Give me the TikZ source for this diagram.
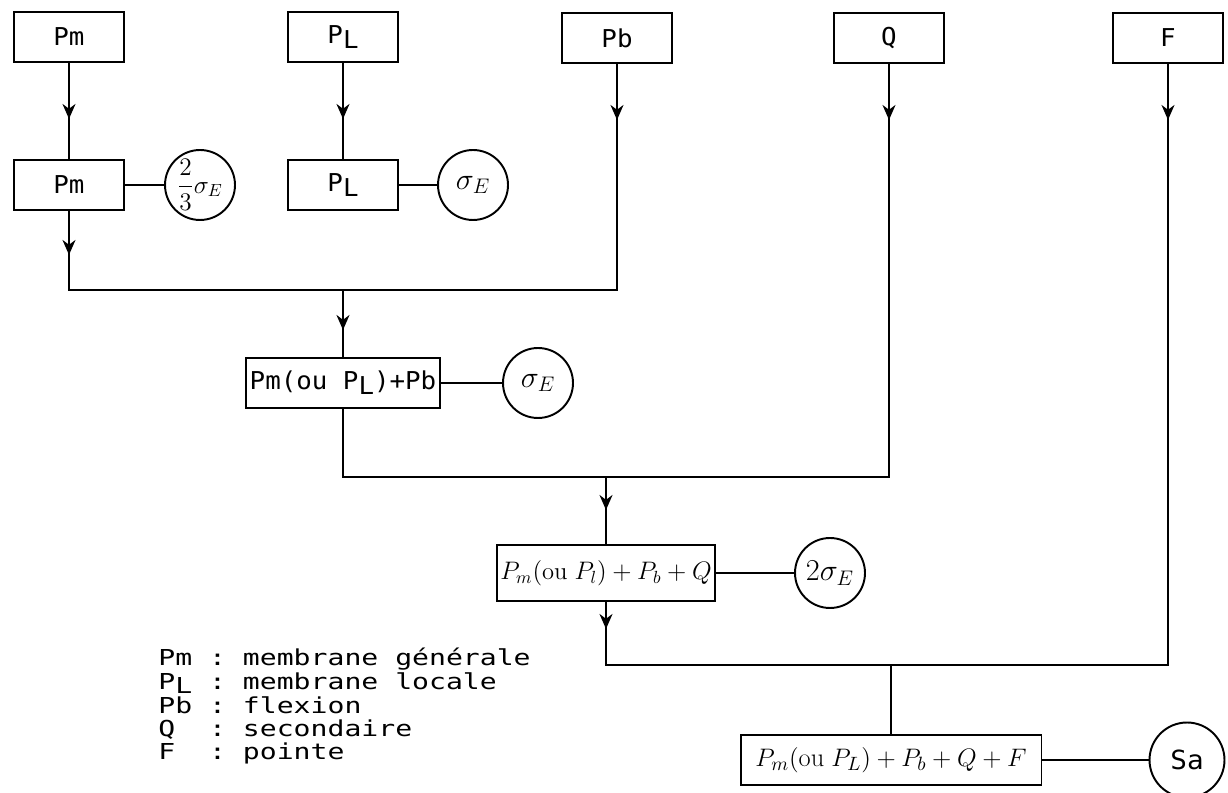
\documentclass[tikz,border=0pt]{standalone}
\usepackage{amsmath}
\usepackage{fontspec}
\usepackage{tikz}
\usetikzlibrary{arrows.meta,decorations.markings}
\newfontfamily\etiq[FakeStretch=1.05]{DejaVu Sans Mono}
\newfontfamily\legende[FakeStretch=1.28]{DejaVu Sans Mono}

\begin{document}
\begin{tikzpicture}[x=0.02cm, y=-0.02cm,
  boite/.style={rectangle, draw, line width=1.1pt, minimum width=2.2cm,
                minimum height=1cm, inner sep=2pt, font=\fontsize{14}{16}\etiq},
  cercle/.style={circle, draw, line width=1.1pt, minimum size=1.4cm,
                 inner sep=0pt, font=\fontsize{17}{19}\selectfont},
  lien/.style={line width=1.1pt},
  fleche/.style={lien, postaction={decorate},
                 decoration={markings, mark=at position #1 with
                   {\arrow{Stealth[length=3mm,width=2.6mm]}}}}]
\useasboundingbox (0,0) rectangle (1228,793);

% contraintes de depart
\node[boite] (pmA) at (69,37) {Pm};
\node[boite] (plA) at (343,37) {P\raisebox{-0.35ex}{L}};
\node[boite] (pbA) at (617,38) {Pb};
\node[boite] (qA) at (889,38) {Q};
\node[boite] (fA) at (1168,38) {F};

% deuxieme rangee
\node[boite] (pmB) at (69,185) {Pm};
\node[boite] (plB) at (343,185) {P\raisebox{-0.35ex}{L}};
\node[cercle, font=\fontsize{14}{16}\selectfont] (c1) at (200,185)
  {$\dfrac{2}{3}\sigma_E$};
\node[cercle] (c2) at (473,185) {$\sigma_E$};

% sommes
\node[boite, minimum width=3.74cm] (sA) at (343,383)
  {Pm(ou P\raisebox{-0.35ex}{L})+Pb};
\node[cercle] (c3) at (538,383) {$\sigma_E$};
\node[boite, minimum width=4.26cm, minimum height=1.12cm,
      font=\fontsize{14}{16}\selectfont] (sB) at (606,573)
  {$P_m(\mathrm{ou}\;P_l)+P_b+Q$};
\node[cercle] (c4) at (830,573) {$2\sigma_E$};
\node[boite, minimum width=6.02cm, font=\fontsize{15}{17}\selectfont]
  (sC) at (891,760) {$P_m(\mathrm{ou}\;P_L)+P_b+Q+F$};
\node[cercle, minimum size=1.5cm, font=\fontsize{15}{17}\etiq]
  (c5) at (1187,760) {Sa};

% points de jonction
\coordinate (m1) at (343,290);
\coordinate (m2) at (606,477);
\coordinate (m3) at (891,665);

\draw[fleche=1.12cm] (pmA) -- (pmB);
\draw[fleche=1.12cm] (plA) -- (plB);
\draw[fleche=0.88cm] (pmB) |- (m1);
\draw[fleche=1.12cm] (pbA) |- (m1);
\draw[fleche=0.8cm] (m1) -- (sA);
\draw[lien] (sA) |- (m2);
\draw[fleche=1.12cm] (qA) |- (m2);
\draw[fleche=0.66cm] (m2) -- (sB);
\draw[fleche=0.54cm] (sB) |- (m3);
\draw[fleche=1.12cm] (fA) |- (m3);
\draw[lien] (m3) -- (sC);

\draw[lien] (pmB) -- (c1);
\draw[lien] (plB) -- (c2);
\draw[lien] (sA) -- (c3);
\draw[lien] (sB) -- (c4);
\draw[lien] (sC) -- (c5);

% legende
\node[anchor=north west, inner sep=0pt, font=\fontsize{12.5}{12.8}\legende]
  (leg) at (158,648)
  {\begin{tabular}{@{}l@{\ :\ }l@{}}
   Pm & membrane générale\\
   P\raisebox{-0.3ex}{L} & membrane locale\\
   Pb & flexion\\
   Q & secondaire\\
   F & pointe
   \end{tabular}};
\end{tikzpicture}
\end{document}
